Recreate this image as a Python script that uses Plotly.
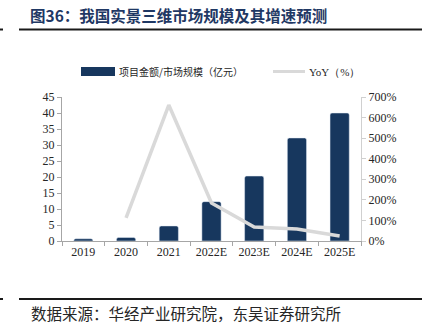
import plotly.graph_objects as go

categories = ["2019", "2020", "2021", "2022E", "2023E", "2024E", "2025E"]
market_size = [0.7, 1.1, 4.7, 12.3, 20.3, 32.2, 40.0]
yoy_cats = ["2020", "2021", "2022E", "2023E", "2024E", "2025E"]
yoy_pct = [112, 661, 185, 68, 58, 24]

W, H = 423, 330
L, R, T, B = 62, 423 - 361, 97, 330 - 241
PW, PH = W - L - R, H - T - B

def px(x):
    return (x - L) / PW

def py(y):
    return (H - B - y) / PH

serif = "Liberation Serif"
cjk = "Noto Sans CJK SC"
navy = "#17375e"
gray = "#d9d9d9"

fig = go.Figure()
fig.add_trace(go.Bar(x=categories, y=market_size, marker=dict(color=navy, cornerradius=2),
                     width=0.45, name="项目金额/市场规模（亿元）", yaxis="y"))
fig.add_trace(go.Scatter(x=yoy_cats, y=yoy_pct, mode="lines", line=dict(color=gray, width=3.5),
                         name="YoY（%）", yaxis="y2"))

fig.update_layout(
    width=W, height=H, autosize=False,
    margin=dict(l=L, r=R, t=T, b=B),
    plot_bgcolor="white", paper_bgcolor="white",
    showlegend=False,
    xaxis=dict(type="category", showline=True, linecolor="#a6a6a6", linewidth=1,
               ticks="outside", tickson="boundaries", ticklen=4, tickcolor="#a6a6a6",
               tickfont=dict(family=serif, size=12, color="#262626"), showgrid=False),
    yaxis=dict(range=[0, 45], dtick=5, showline=True, linecolor="#a6a6a6", linewidth=1,
               ticks="outside", ticklen=4, tickcolor="#a6a6a6", showgrid=False, zeroline=False,
               tickfont=dict(family=serif, size=12, color="#262626")),
    yaxis2=dict(range=[0, 700], dtick=100, ticksuffix="%", overlaying="y", side="right",
                showline=True, linecolor="#d0d0d0", linewidth=1, ticks="outside", ticklen=4,
                tickcolor="#d0d0d0", showgrid=False, zeroline=False,
                tickfont=dict(family=serif, size=12, color="#262626")),
)

shapes = [
    dict(type="line", xref="paper", yref="paper", x0=px(19), x1=px(422), y0=py(29.5), y1=py(29.5),
         line=dict(color="#1a1a1a", width=2)),
    dict(type="line", xref="paper", yref="paper", x0=px(0), x1=px(3), y0=py(29.5), y1=py(29.5),
         line=dict(color="#1a1a1a", width=2)),
    dict(type="line", xref="paper", yref="paper", x0=px(19), x1=px(422), y0=py(299), y1=py(299),
         line=dict(color="#1a1a1a", width=2)),
    dict(type="line", xref="paper", yref="paper", x0=px(0), x1=px(3), y0=py(299), y1=py(299),
         line=dict(color="#1a1a1a", width=2)),
    dict(type="rect", xref="paper", yref="paper", x0=px(81), x1=px(115), y0=py(76), y1=py(67),
         fillcolor=navy, line=dict(width=0)),
    dict(type="line", xref="paper", yref="paper", x0=px(273), x1=px(305), y0=py(71.5), y1=py(71.5),
         line=dict(color=gray, width=3)),
]
annotations = [
    dict(text="<b>图36：我国实景三维市场规模及其增速预测</b>", xref="paper", yref="paper",
         x=px(28), y=py(15.5), xanchor="left", yanchor="middle", showarrow=False,
         font=dict(family=cjk, size=15.5, color="#1f3864")),
    dict(text="项目金额/市场规模（亿元）", xref="paper", yref="paper", x=px(117), y=py(71.5),
         xanchor="left", yanchor="middle", showarrow=False,
         font=dict(family=cjk, size=10, color="#262626")),
    dict(text="YoY（%）", xref="paper", yref="paper", x=px(307), y=py(71.5),
         xanchor="left", yanchor="middle", showarrow=False,
         font=dict(family=serif, size=11, color="#262626")),
    dict(text="数据来源：华经产业研究院，东吴证券研究所", xref="paper", yref="paper",
         x=px(29), y=py(313), xanchor="left", yanchor="middle", showarrow=False,
         font=dict(family=cjk, size=15.5, color="#262626")),
]
fig.update_layout(shapes=shapes, annotations=annotations)

fig.write_html("out.html")
